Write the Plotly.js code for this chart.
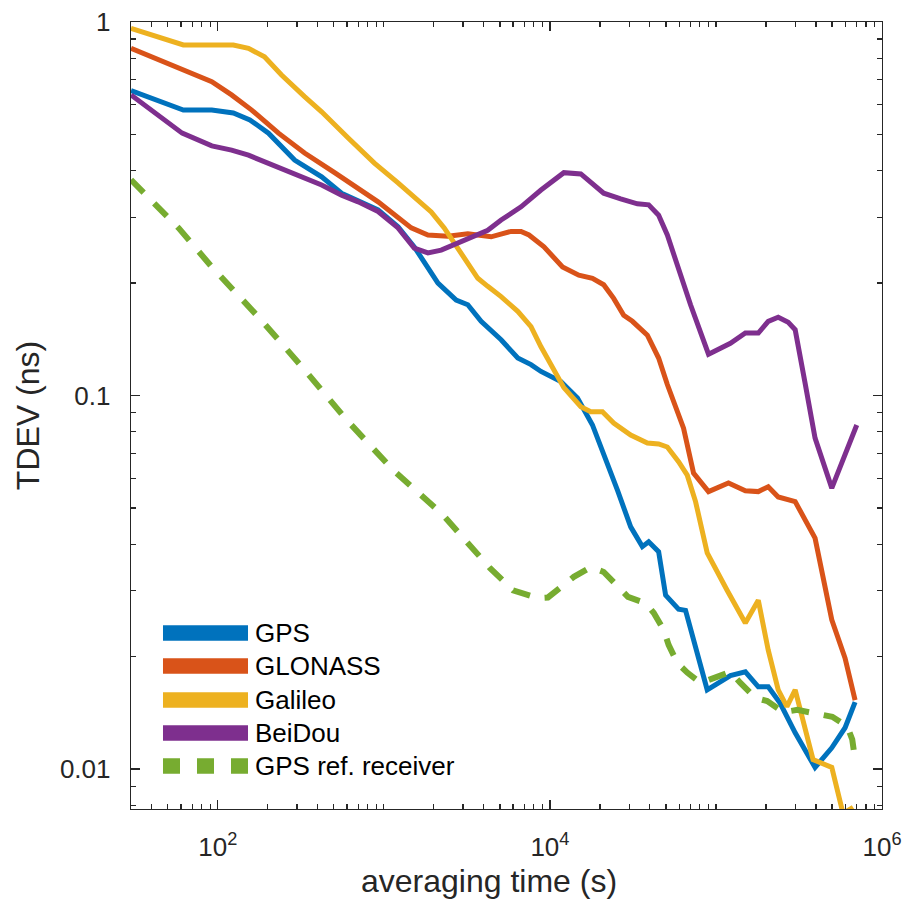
<!DOCTYPE html>
<html><head><meta charset="utf-8">
<script src="https://cdn.plot.ly/plotly-3.0.1.min.js"></script>
<style>html,body{margin:0;padding:0;background:#fff}#chart{width:909px;height:906px}</style>
</head><body><div id="chart"></div>
<script>
// ---- data (averaging time in s, TDEV in ns) ----
const tauGPS = [30, 62, 92, 124, 156, 202, 290, 422, 556, 923, 1217, 1524, 2117, 2430, 2725, 3203, 3852, 5082, 6402, 7693, 8835, 11640, 14660, 18040, 22190, 25510, 30650, 36030, 39340, 45160, 49750, 59540, 65600, 88550, 122200, 150300, 179900, 206500, 243800, 300000, 395300, 423700, 498400, 599200, 688500];
const tdevGPS = [0.655, 0.581, 0.581, 0.571, 0.547, 0.504, 0.427, 0.385, 0.348, 0.314, 0.283, 0.250, 0.200, 0.188, 0.180, 0.175, 0.158, 0.141, 0.126, 0.121, 0.116, 0.109, 0.0985, 0.0834, 0.0660, 0.0558, 0.0445, 0.0394, 0.0406, 0.0382, 0.0292, 0.0268, 0.0266, 0.0163, 0.0178, 0.0182, 0.0166, 0.0166, 0.0150, 0.0125, 0.0101, 0.0105, 0.0114, 0.0129, 0.0151];

const tauGLONASS = [30, 62, 92, 121, 160, 232, 333, 505, 923, 1462, 1842, 2430, 3203, 4425, 5834, 6702, 7481, 9210, 11910, 14930, 18040, 21080, 24210, 27820, 31390, 38630, 45160, 50950, 63800, 73290, 90200, 118900, 150300, 179900, 206500, 237100, 300000, 395300, 498400, 599200, 688500];
const tdevGLONASS = [0.850, 0.744, 0.692, 0.638, 0.581, 0.504, 0.446, 0.395, 0.330, 0.281, 0.269, 0.267, 0.271, 0.266, 0.275, 0.275, 0.269, 0.250, 0.221, 0.210, 0.206, 0.198, 0.182, 0.164, 0.158, 0.145, 0.126, 0.107, 0.0818, 0.0620, 0.0553, 0.0583, 0.0556, 0.0553, 0.0570, 0.0535, 0.0520, 0.0415, 0.0251, 0.0198, 0.0153];

const tauGalileo = [30, 62, 124, 153, 191, 242, 333, 422, 610, 877, 1217, 1524, 1928, 2309, 2920, 3680, 4224, 5082, 6402, 7693, 8835, 12130, 15350, 17620, 20720, 24210, 30650, 38630, 45160, 50950, 59540, 67150, 75370, 88550, 116700, 150300, 179900, 206500, 237100, 267500, 300000, 334900, 384400, 498400, 582700, 669800];
const tdevGalileo = [0.962, 0.868, 0.868, 0.850, 0.807, 0.721, 0.631, 0.575, 0.489, 0.419, 0.371, 0.340, 0.310, 0.281, 0.241, 0.206, 0.196, 0.184, 0.168, 0.153, 0.135, 0.105, 0.0933, 0.0905, 0.0905, 0.0844, 0.0784, 0.0746, 0.0742, 0.0728, 0.0665, 0.0612, 0.0520, 0.0379, 0.0301, 0.0246, 0.0283, 0.0208, 0.0163, 0.0147, 0.0163, 0.0133, 0.0106, 0.0101, 0.0076, 0.0079];

const tauBeiDou = [30, 61, 92, 121, 153, 202, 290, 422, 556, 700, 923, 1217, 1524, 1842, 2215, 2651, 3203, 4224, 5082, 6702, 8835, 12130, 15350, 18360, 21080, 26690, 33630, 39340, 45160, 50950, 59540, 70300, 90200, 122200, 150300, 179900, 206500, 237100, 272400, 300000, 344100, 395300, 498400, 599200, 704600];
const tdevBeiDou = [0.638, 0.504, 0.466, 0.454, 0.440, 0.419, 0.394, 0.366, 0.344, 0.330, 0.311, 0.281, 0.248, 0.241, 0.245, 0.253, 0.262, 0.277, 0.295, 0.320, 0.355, 0.395, 0.392, 0.366, 0.348, 0.336, 0.326, 0.324, 0.304, 0.269, 0.217, 0.175, 0.129, 0.138, 0.147, 0.147, 0.158, 0.162, 0.157, 0.150, 0.108, 0.0769, 0.0565, 0.0693, 0.0834];

const tauRef = [30, 58, 92, 175, 326, 597, 1135, 2270, 4360, 6000, 8470, 9730, 13930, 17620, 21080, 25700, 29500, 37740, 42150, 48390, 51860, 58700, 67400, 80760, 96650, 122200, 140300, 172600, 203600, 254300, 309000, 403000, 502000, 618000, 662000, 688500, 717600];
const tdevRef = [0.378, 0.281, 0.221, 0.1625, 0.1185, 0.0860, 0.0632, 0.0479, 0.0345, 0.0301, 0.0287, 0.0288, 0.0327, 0.0347, 0.0337, 0.0307, 0.0289, 0.0278, 0.0262, 0.0236, 0.0215, 0.0192, 0.0181, 0.0170, 0.0175, 0.0182, 0.0170, 0.0155, 0.0152, 0.0142, 0.0144, 0.0141, 0.0138, 0.0130, 0.0120, 0.0106, 0.0106];

const seriesNames = ['GPS', 'GLONASS', 'Galileo', 'BeiDou', 'GPS ref. receiver'];
const xTickVals = [100, 10000, 1000000];
const xTickText = ['10<sup>2</sup>', '10<sup>4</sup>', '10<sup>6</sup>'];
const yTickVals = [0.01, 0.1, 1];
const yTickText = ['0.01', '0.1', '1'];
const xTitle = 'averaging time (s)';
const yTitle = 'TDEV (ns)';

// ---- styling ----
const colors = ['#0072BD', '#D95319', '#EDB120', '#7E2F8E', '#77AC30'];
const FONT = 'Liberation Sans, Arial, Helvetica, sans-serif';
const TXT = '#262626';

const xs = [tauGPS, tauGLONASS, tauGalileo, tauBeiDou, tauRef];
const ys = [tdevGPS, tdevGLONASS, tdevGalileo, tdevBeiDou, tdevRef];

const traces = [];
for (let i = 0; i < 5; i++) {
  const isRef = i === 4;
  traces.push({
    x: xs[i], y: ys[i], type: 'scatter', mode: 'lines', name: seriesNames[i],
    showlegend: false, hoverinfo: 'skip',
    line: {color: colors[i], width: isRef ? 6 : 5, dash: isRef ? '18px,15px' : 'solid'}
  });
}

// legend drawn in the plot corner (thick samples like the reference)
const legX0 = 0.0426, legX1 = 0.1558, legTextX = 0.163;
const legY = [0.2236, 0.1817, 0.1385, 0.0966, 0.0546];
const shapes = [], annotations = [];
for (let i = 0; i < 5; i++) {
  shapes.push({
    type: 'line', xref: 'paper', yref: 'paper', x0: legX0, x1: legX1, y0: legY[i], y1: legY[i],
    line: {color: colors[i], width: 15.5, dash: i === 4 ? '17px,17px' : 'solid'}
  });
  annotations.push({
    xref: 'paper', yref: 'paper', x: legTextX, y: legY[i], xanchor: 'left', yanchor: 'middle',
    text: seriesNames[i], showarrow: false, font: {family: FONT, size: 26, color: '#000'}
  });
}
// x-axis label (placed as in the reference, slightly left of centre)
annotations.push({
  xref: 'paper', yref: 'paper', x: 0.4767, y: 0, yshift: -52, xanchor: 'center', yanchor: 'top',
  text: xTitle, showarrow: false, font: {family: FONT, size: 32, color: TXT}
});

// minor tick positions
const xMinor = [];
for (let k = 1; k <= 5; k++) for (let m = 1; m <= 9; m++) {
  const v = m * Math.pow(10, k);
  if (v >= 30 && v <= 1e6 && xTickVals.indexOf(v) < 0) xMinor.push(v);
}
const yMinor = [];
for (let k = -3; k <= -1; k++) for (let m = 1; m <= 9; m++) {
  const v = +(m * Math.pow(10, k)).toPrecision(3);
  if (v >= 0.0078 && v < 1 && yTickVals.indexOf(v) < 0) yMinor.push(v);
}

const axisCommon = {
  type: 'log', showline: true, mirror: 'ticks', linecolor: TXT, linewidth: 1.3,
  ticks: 'inside', ticklen: 9, tickwidth: 1.3, tickcolor: TXT,
  showgrid: false, zeroline: false, tickmode: 'array',
  tickfont: {family: FONT, size: 26, color: TXT}
};

const layout = {
  width: 909, height: 906,
  margin: {l: 131, r: 27, t: 22, b: 97},
  paper_bgcolor: '#fff', plot_bgcolor: '#fff',
  font: {family: FONT, color: TXT},
  showlegend: false,
  shapes: shapes,
  annotations: annotations,
  xaxis: Object.assign({}, axisCommon, {
    range: [Math.log10(30), 6],
    tickvals: xTickVals, ticktext: xTickText,
    ticklabelstandoff: 14,
    minor: {tickmode: 'array', tickvals: xMinor, ticks: 'inside', ticklen: 5, tickwidth: 1.2, tickcolor: TXT, showgrid: false}
  }),
  yaxis: Object.assign({}, axisCommon, {
    range: [-2.107, 0],
    tickvals: yTickVals, ticktext: yTickText,
    ticklabelstandoff: 14,
    minor: {tickmode: 'array', tickvals: yMinor, ticks: 'inside', ticklen: 5, tickwidth: 1.2, tickcolor: TXT, showgrid: false},
    title: {text: yTitle, font: {family: FONT, size: 32, color: TXT}, standoff: 10}
  })
};

Plotly.newPlot('chart', traces, layout, {staticPlot: true, displayModeBar: false});
</script>
</body></html>
